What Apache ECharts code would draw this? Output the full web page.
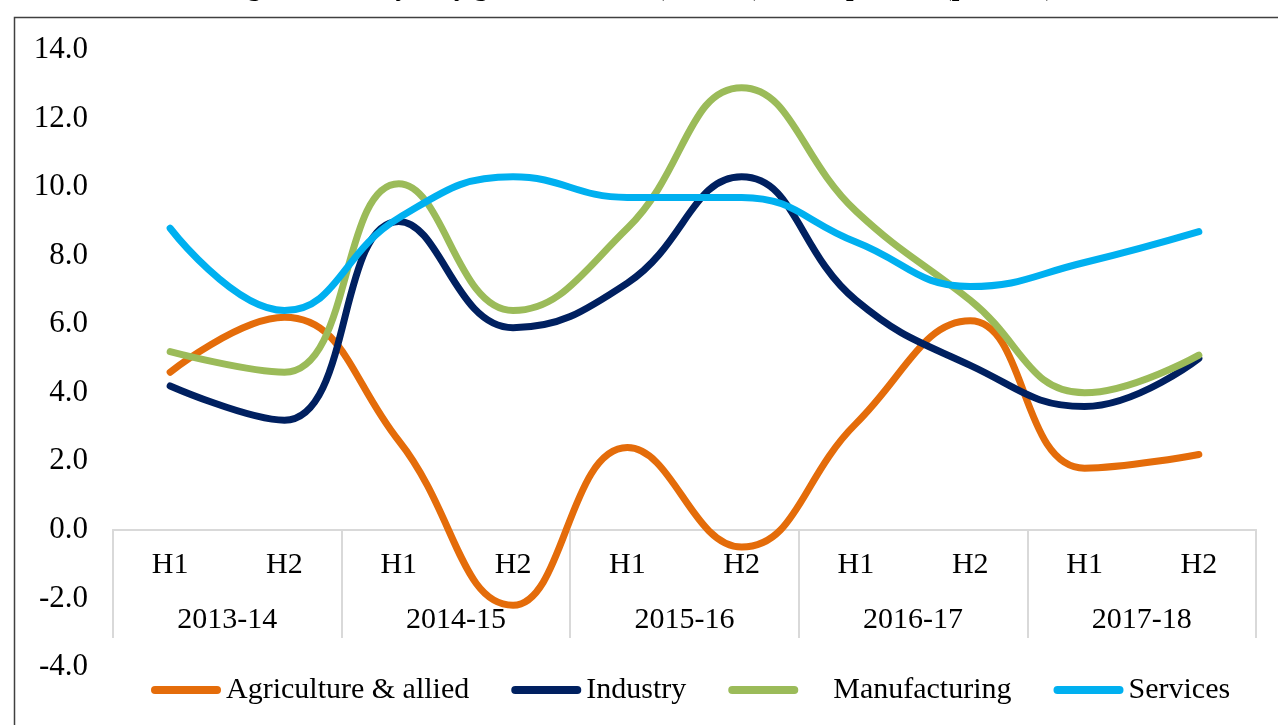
<!DOCTYPE html>
<html>
<head>
<meta charset="utf-8">
<script src="https://cdn.jsdelivr.net/npm/echarts@6/dist/echarts.min.js"></script>
<style>
html,body{margin:0;padding:0;background:#fff;}
#chart{width:1278px;height:725px;}
</style>
</head>
<body>
<div id="chart"></div>
<script>
const halves = ['H1','H2','H1','H2','H1','H2','H1','H2','H1','H2'];
const years = ['2013-14','2014-15','2015-16','2016-17','2017-18'];
const yTicks = {min:-4, max:14, interval:2};
const agriculture = [4.6, 6.2, 2.6, -2.2, 2.4, -0.5, 3.1, 6.1, 1.8, 2.2];
const industry = [4.2, 3.2, 9.0, 5.9, 7.2, 10.3, 6.7, 4.8, 3.6, 5.0];
const manufacturing = [5.2, 4.6, 10.1, 6.4, 8.8, 12.9, 9.3, 6.7, 4.0, 5.1];
const services = [8.8, 6.4, 9.1, 10.3, 9.7, 9.7, 8.4, 7.1, 7.8, 8.7];

const FONT = 'Liberation Serif';
const GRID = {left: 113, right: 22, top: 50, bottom: 58};
const plotH = 725 - GRID.top - GRID.bottom;
const zeroOffset = -plotH * (0 - yTicks.min) / (yTicks.max - yTicks.min);
const chart = echarts.init(document.getElementById('chart'));
const capsule = 'path://M4,0 L66,0 A4,4 0 0 1 66,8 L4,8 A4,4 0 0 1 4,0 Z';
function line(name, data, color) {
  return {
    name, type: 'line', data, xAxisIndex: 0,
    smooth: 0.45, symbol: 'none',
    lineStyle: {color, width: 7, cap: 'round', join: 'round'},
    itemStyle: {color}
  };
}
chart.setOption({
  animation: false,
  backgroundColor: '#fff',
  textStyle: {fontFamily: FONT},
  title: {
    text: 'Figure 3: Half-yearly growth in GVA (2011-12) in components (per cent)',
    left: 'center', top: -30,
    textStyle: {fontFamily: FONT, fontSize: 27, fontWeight: 'bold', color: '#000'}
  },
  graphic: [{
    type: 'rect', left: 12, top: 15, silent: true,
    shape: {width: 1300, height: 760},
    style: {fill: 'none', stroke: '#404040', lineWidth: 1.5}
  }],
  grid: Object.assign({outerBoundsMode: 'none', containLabel: false}, GRID),
  legend: {
    left: 146, top: 670,
    itemWidth: 70, itemHeight: 8, itemGap: 42,
    icon: capsule,
    textStyle: {fontFamily: FONT, fontSize: 30, color: '#000'},
    formatter: function (n) { return n === 'Manufacturing' ? '    ' + n : n; },
    data: ['Agriculture & allied','Industry','Manufacturing','Services']
  },
  xAxis: [{
    type: 'category', data: halves, position: 'bottom', offset: zeroOffset,
    axisLine: {show: true, onZero: false, lineStyle: {color: '#d9d9d9', width: 2}},
    axisTick: {show: false},
    axisLabel: {fontFamily: FONT, fontSize: 30, color: '#000', margin: 20, interval: 0},
    splitLine: {show: false}
  }, {
    type: 'category', data: years, position: 'bottom', offset: zeroOffset,
    axisLine: {show: true, onZero: false, lineStyle: {color: '#d9d9d9', width: 2}},
    axisTick: {show: true, length: 108, interval: 0, lineStyle: {color: '#d9d9d9', width: 2}},
    axisLabel: {fontFamily: FONT, fontSize: 30, color: '#000', margin: 75, interval: 0},
    splitLine: {show: false}
  }],
  yAxis: {
    type: 'value', min: yTicks.min, max: yTicks.max, interval: yTicks.interval,
    axisLine: {show: false}, axisTick: {show: false}, splitLine: {show: false},
    axisLabel: {fontFamily: FONT, fontSize: 31, color: '#000', margin: 25,
      formatter: v => v.toFixed(1)}
  },
  series: [
    line('Agriculture & allied', agriculture, '#E46C0A'),
    line('Industry', industry, '#002060'),
    line('Manufacturing', manufacturing, '#9BBB59'),
    line('Services', services, '#00B0F0')
  ]
});
</script>
</body>
</html>
